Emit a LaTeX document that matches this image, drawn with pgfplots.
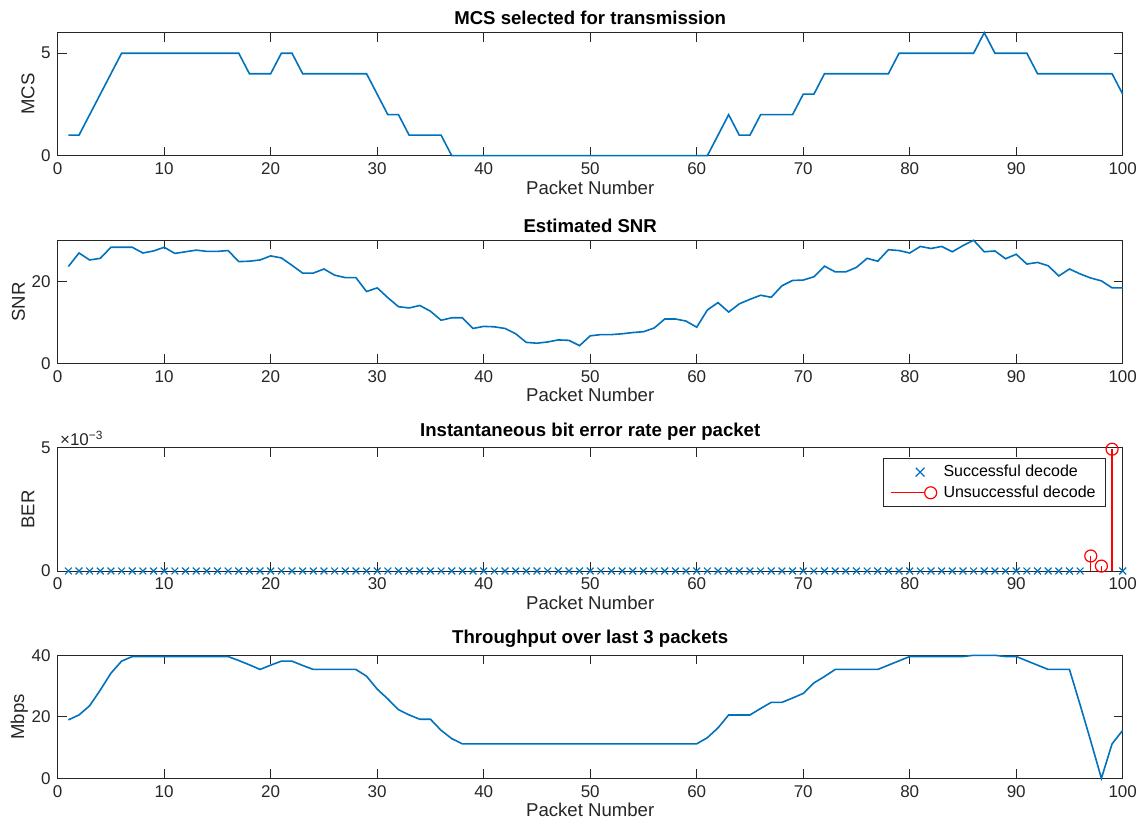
\documentclass[border=0pt]{standalone}
\usepackage{fontspec}
\setmainfont{Liberation Sans}
\usepackage{pgfplots}
\pgfplotsset{compat=1.18}
\definecolor{mblue}{rgb}{0,0.447,0.741}
\definecolor{axgray}{rgb}{0.15,0.15,0.15}
\pgfplotsset{
  mystyle/.style={
    scale only axis, width=532.5pt, height=61.5pt,
    xmin=0, xmax=100, xtick={0,10,...,100},
    tick pos=both, xticklabel pos=left, yticklabel pos=left,
    tick align=inside,
    axis line style={axgray, line width=0.5pt},
    tick style={axgray, line width=0.5pt},
    major tick length=4.5pt,
    ticklabel style={font=\fontsize{8.5}{10}\selectfont, text=axgray},
    label style={font=\fontsize{9.3}{11}\selectfont, text=axgray},
    title style={font=\fontsize{9.3}{11}\selectfont\bfseries, yshift=-5.5pt},
    xlabel={Packet Number},
    xlabel style={yshift=4pt},
    ylabel style={yshift=-3.5pt},
    scaled y ticks=false,
    /pgf/number format/assume math mode=true,
    clip=false,
    anchor=south west,
  }
}
\begin{document}
\begin{tikzpicture}
\useasboundingbox (0,0) rectangle (570pt,415.5pt);
% ---------------- MCS
\begin{axis}[mystyle, at={(28.85pt,337.65pt)}, ymin=0, ymax=6, ytick={0,5},
  title={MCS selected for transmission}, ylabel={MCS}]
\addplot[mblue, line width=0.8pt] coordinates {
(1,1)(2,1)(3,2)(4,3)(5,4)(6,5)(7,5)(8,5)(9,5)(10,5)(11,5)(12,5)(13,5)(14,5)(15,5)(16,5)(17,5)
(18,4)(19,4)(20,4)(21,5)(22,5)(23,4)(24,4)(25,4)(26,4)(27,4)(28,4)(29,4)(30,3)(31,2)(32,2)
(33,1)(34,1)(35,1)(36,1)(37,0)(38,0)(39,0)(40,0)(41,0)(42,0)(43,0)(44,0)(45,0)(46,0)(47,0)
(48,0)(49,0)(50,0)(51,0)(52,0)(53,0)(54,0)(55,0)(56,0)(57,0)(58,0)(59,0)(60,0)(61,0)(62,1)
(63,2)(64,1)(65,1)(66,2)(67,2)(68,2)(69,2)(70,3)(71,3)(72,4)(73,4)(74,4)(75,4)(76,4)(77,4)
(78,4)(79,5)(80,5)(81,5)(82,5)(83,5)(84,5)(85,5)(86,5)(87,6)(88,5)(89,5)(90,5)(91,5)(92,4)
(93,4)(94,4)(95,4)(96,4)(97,4)(98,4)(99,4)(100,3)};
\end{axis}
% ---------------- SNR
\begin{axis}[mystyle, at={(28.85pt,233.85pt)}, ymin=0, ymax=30, ytick={0,20},
  title={Estimated SNR}, ylabel={SNR}]
\addplot[mblue, line width=0.8pt] coordinates {
(1,23.6)(2,26.9)(3,25.2)(4,25.6)(5,28.3)(6,28.3)(7,28.3)(8,26.9)(9,27.4)(10,28.3)
(11,26.8)(12,27.2)(13,27.6)(14,27.3)(15,27.3)(16,27.5)(17,24.8)(18,24.9)(19,25.2)(20,26.2)
(21,25.7)(22,23.9)(23,22.0)(24,22.0)(25,23.0)(26,21.5)(27,20.9)(28,20.9)(29,17.5)(30,18.4)
(31,16.0)(32,13.8)(33,13.5)(34,14.1)(35,12.7)(36,10.5)(37,11.1)(38,11.1)(39,8.5)(40,9.0)
(41,8.9)(42,8.5)(43,7.2)(44,5.1)(45,4.9)(46,5.2)(47,5.7)(48,5.6)(49,4.3)(50,6.7)
(51,7.0)(52,7.0)(53,7.2)(54,7.5)(55,7.7)(56,8.6)(57,10.8)(58,10.8)(59,10.3)(60,8.8)
(61,13.0)(62,14.8)(63,12.5)(64,14.5)(65,15.6)(66,16.6)(67,16.1)(68,18.9)(69,20.2)(70,20.3)
(71,21.1)(72,23.7)(73,22.3)(74,22.3)(75,23.4)(76,25.6)(77,24.9)(78,27.7)(79,27.5)(80,26.9)
(81,28.5)(82,28.0)(83,28.5)(84,27.2)(85,28.7)(86,30.0)(87,27.2)(88,27.4)(89,25.5)(90,26.6)
(91,24.2)(92,24.6)(93,23.8)(94,21.3)(95,23.0)(96,21.8)(97,20.8)(98,20.1)(99,18.4)(100,18.4)};
\end{axis}
% ---------------- BER
\begin{axis}[mystyle, at={(28.85pt,130pt)}, ymin=0, ymax=0.005, ytick={0,0.005}, yticklabels={0,5},
  title={Instantaneous bit error rate per packet}, ylabel={BER},
  extra description/.code={\node[anchor=south west, inner sep=1pt, font=\fontsize{8.5}{10}\selectfont, text=axgray] at (0,1) {×10\textsuperscript{−3}};},
  legend style={at={(1,1)}, anchor=north east, xshift=-8.3pt, yshift=-5.2pt,
    font=\fontsize{8}{9.5}\selectfont, draw=axgray, line width=0.5pt, fill=white,
    cells={anchor=west}, row sep=-1pt, inner xsep=3pt, inner ysep=1pt}]
\addplot[only marks, mark=x, mblue, mark size=2.4pt, line width=0.6pt,
  legend image code/.code={\draw[mblue,line width=0.6pt] (0.52cm-2.2pt,-2.2pt)--(0.52cm+2.2pt,2.2pt) (0.52cm-2.2pt,2.2pt)--(0.52cm+2.2pt,-2.2pt); \path (0cm,0cm) (0.85cm,0cm);}]
coordinates {
(1,0)(2,0)(3,0)(4,0)(5,0)(6,0)(7,0)(8,0)(9,0)(10,0)(11,0)(12,0)(13,0)(14,0)(15,0)(16,0)
(17,0)(18,0)(19,0)(20,0)(21,0)(22,0)(23,0)(24,0)(25,0)(26,0)(27,0)(28,0)(29,0)(30,0)(31,0)
(32,0)(33,0)(34,0)(35,0)(36,0)(37,0)(38,0)(39,0)(40,0)(41,0)(42,0)(43,0)(44,0)(45,0)(46,0)
(47,0)(48,0)(49,0)(50,0)(51,0)(52,0)(53,0)(54,0)(55,0)(56,0)(57,0)(58,0)(59,0)(60,0)(61,0)
(62,0)(63,0)(64,0)(65,0)(66,0)(67,0)(68,0)(69,0)(70,0)(71,0)(72,0)(73,0)(74,0)(75,0)(76,0)
(77,0)(78,0)(79,0)(80,0)(81,0)(82,0)(83,0)(84,0)(85,0)(86,0)(87,0)(88,0)(89,0)(90,0)(91,0)
(92,0)(93,0)(94,0)(95,0)(96,0)(100,0)};
\addlegendentry{Successful decode}
\addplot[ycomb, red, mark=o, mark size=3pt, line width=0.6pt,
  legend image code/.code={\draw[red,line width=0.6pt] (0cm,0cm)--(0.6cm,0cm); \draw[red,line width=0.6pt] (0.6cm+3pt,0cm) circle (3pt);}]
coordinates {(97,0.00061)(98,0.0002)(99,0.00495)};
\addlegendentry{Unsuccessful decode}
\end{axis}
% ---------------- Throughput
\begin{axis}[mystyle, at={(28.85pt,26.35pt)}, ymin=0, ymax=40, ytick={0,20,40},
  title={Throughput over last 3 packets}, ylabel={Mbps}, ylabel style={yshift=-1.5pt}]
\addplot[mblue, line width=0.8pt] coordinates {
(1,19.0)(2,20.6)(3,23.6)(4,28.7)(5,34.2)(6,38.1)(7,39.6)(8,39.6)(9,39.6)(10,39.6)
(11,39.6)(12,39.6)(13,39.6)(14,39.6)(15,39.6)(16,39.6)(17,38.3)(18,36.9)(19,35.4)(20,36.8)
(21,38.1)(22,38.1)(23,36.7)(24,35.4)(25,35.4)(26,35.4)(27,35.4)(28,35.4)(29,33.2)(30,29.0)
(31,25.8)(32,22.3)(33,20.6)(34,19.2)(35,19.2)(36,15.6)(37,12.9)(38,11.2)(39,11.2)(40,11.2)
(41,11.2)(42,11.2)(43,11.2)(44,11.2)(45,11.2)(46,11.2)(47,11.2)(48,11.2)(49,11.2)(50,11.2)
(51,11.2)(52,11.2)(53,11.2)(54,11.2)(55,11.2)(56,11.2)(57,11.2)(58,11.2)(59,11.2)(60,11.2)
(61,13.2)(62,16.4)(63,20.6)(64,20.6)(65,20.6)(66,22.7)(67,24.7)(68,24.7)(69,26.1)(70,27.6)
(71,31.0)(72,33.1)(73,35.4)(74,35.4)(75,35.4)(76,35.4)(77,35.4)(78,36.8)(79,38.2)(80,39.6)
(81,39.6)(82,39.6)(83,39.6)(84,39.6)(85,39.6)(86,40)(87,40)(88,40)(89,39.6)(90,39.6)
(91,38.2)(92,36.8)(93,35.4)(94,35.4)(95,35.4)(96,23.9)(97,12.1)(98,0)(99,11.2)(100,15.6)};
\end{axis}
\end{tikzpicture}
\end{document}
